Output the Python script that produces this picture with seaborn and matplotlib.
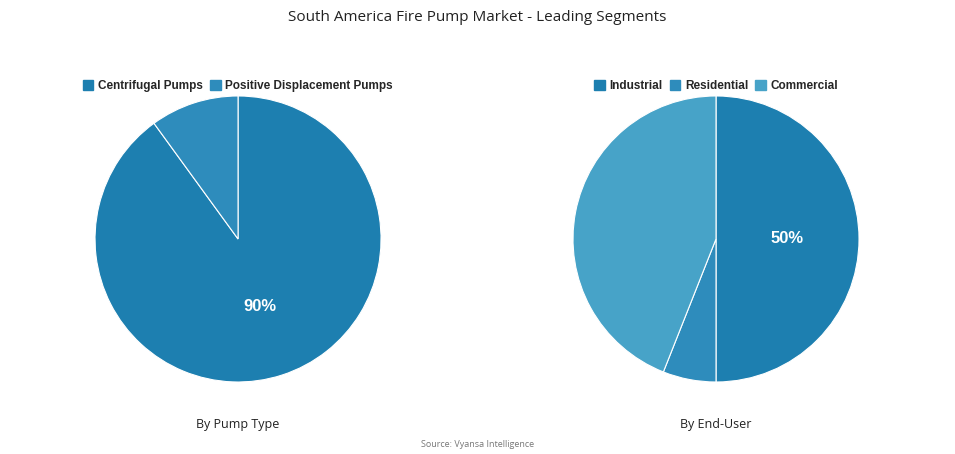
import matplotlib
matplotlib.use("Agg")
import matplotlib.pyplot as plt
from matplotlib.patches import Patch
import numpy as np
import seaborn as sns

sns.set_theme(style="white")
plt.rcParams['font.family'] = ['Open Sans', 'DejaVu Sans']

# data
pump_labels = ["Centrifugal Pumps", "Positive Displacement Pumps"]
pump_values = [90, 10]
pump_colors = ["#1d7fb0", "#2e8cbc"]

user_labels = ["Industrial", "Residential", "Commercial"]
user_values = [50, 6, 44]
user_colors = ["#1d7fb0", "#2e8cbc", "#47a3c8"]

fig = plt.figure(figsize=(9.55, 4.54), dpi=100)
fig.text(0.5, 0.977, "South America Fire Pump Market - Leading Segments",
         ha="center", va="top", fontsize=11, color="#222222")


def draw_pie(left, labels, values, colors, title, legend_x):
    ax = fig.add_axes([left, 0.1586, 0.2995, 0.63])
    wedges, _ = ax.pie(values, colors=colors, startangle=90, counterclock=False,
                       wedgeprops=dict(edgecolor="white", linewidth=0.8))
    ax.set_xlim(-1, 1)
    ax.set_ylim(-1, 1)
    # label only the largest slice
    big = values.index(max(values))
    w = wedges[big]
    ang = np.deg2rad((w.theta1 + w.theta2) / 2)
    ax.text(0.5 * np.cos(ang), 0.5 * np.sin(ang), f"{values[big]}%",
            ha="center", va="center", color="white", fontsize=12, fontweight="bold",
            family=["Liberation Sans", "DejaVu Sans"])
    ax.set_aspect("equal")
    handles = [Patch(color=c, label=l) for c, l in zip(colors, labels)]
    fig.legend(handles=handles, loc="center", bbox_to_anchor=(legend_x, 0.81), ncol=len(labels),
               frameon=False, handlelength=0.9, handleheight=0.9, handletextpad=0.4,
               columnspacing=0.6, prop=dict(family=["Liberation Sans", "DejaVu Sans"], weight="bold", size=8.5))
    fig.text(left + 0.2995 / 2, 0.064, title, ha="center", va="center", fontsize=9, color="#222222")


draw_pie(0.0995, pump_labels, pump_values, pump_colors, "By Pump Type", 0.249)
draw_pie(0.6, user_labels, user_values, user_colors, "By End-User", 0.75)

fig.text(0.5, 0.02, "Source: Vyansa Intelligence", ha="center", va="center", fontsize=6.5, color="#777777")

fig.savefig("out.png", dpi=100)
